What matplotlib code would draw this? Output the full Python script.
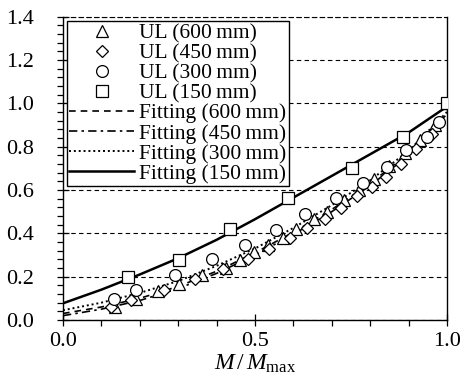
import matplotlib
matplotlib.use('Agg')
import matplotlib.pyplot as plt
from matplotlib.ticker import MultipleLocator

plt.rcParams['font.family'] = ['Liberation Serif', 'DejaVu Serif']
plt.rcParams['mathtext.fontset'] = 'custom'
plt.rcParams['mathtext.rm'] = 'Liberation Serif'
plt.rcParams['mathtext.it'] = 'Liberation Serif:italic'

# measured points (UL)
x600 = [0.136, 0.190, 0.247, 0.302, 0.362, 0.424, 0.460, 0.498, 0.535, 0.572, 0.607,
        0.653, 0.688, 0.731, 0.770, 0.810, 0.850, 0.890, 0.930, 0.970, 1.000]
y600 = [0.058, 0.095, 0.134, 0.166, 0.208, 0.241, 0.277, 0.312, 0.345, 0.377, 0.418,
        0.465, 0.500, 0.554, 0.600, 0.650, 0.710, 0.770, 0.830, 0.900, 1.000]

x450 = [0.124, 0.177, 0.264, 0.344, 0.418, 0.481, 0.537, 0.592, 0.635, 0.683, 0.725,
        0.766, 0.805, 0.840, 0.880, 0.920, 0.960, 1.000]
y450 = [0.062, 0.092, 0.138, 0.188, 0.234, 0.281, 0.326, 0.377, 0.423, 0.465, 0.515,
        0.572, 0.615, 0.660, 0.720, 0.790, 0.860, 1.000]

x300 = [0.134, 0.191, 0.292, 0.389, 0.473, 0.555, 0.631, 0.712, 0.781, 0.844, 0.894,
        0.947, 0.979, 1.000]
y300 = [0.096, 0.138, 0.208, 0.280, 0.346, 0.415, 0.490, 0.563, 0.631, 0.708, 0.784,
        0.846, 0.915, 1.000]

x150 = [0.170, 0.302, 0.436, 0.585, 0.753, 0.886, 1.000]
y150 = [0.197, 0.277, 0.419, 0.561, 0.703, 0.845, 1.000]

# fitting curves
xfit = [0.0, 0.1, 0.2, 0.3, 0.4, 0.5, 0.6, 0.7, 0.8, 0.9, 1.0]
fit600 = [0.030, 0.060, 0.100, 0.155, 0.225, 0.310, 0.405, 0.510, 0.630, 0.770, 0.950]
fit450 = [0.020, 0.050, 0.090, 0.145, 0.215, 0.300, 0.395, 0.500, 0.620, 0.760, 0.940]
fit300 = [0.045, 0.080, 0.125, 0.180, 0.250, 0.330, 0.425, 0.530, 0.645, 0.780, 0.960]
fit150 = [0.077, 0.140, 0.210, 0.285, 0.370, 0.465, 0.565, 0.665, 0.765, 0.865, 0.985]

fig = plt.figure(figsize=(4.7, 3.83), dpi=100)
ax = fig.add_axes([0.134, 0.1645, 0.817, 0.792])

mk = dict(mfc='white', mec='black', mew=0.9, ls='none', zorder=3)
ax.plot(x600, y600, marker='^', ms=8, label='UL (600\u2009mm)', **mk)
ax.plot(x450, y450, marker='D', ms=6.5, label='UL (450\u2009mm)', **mk)
ax.plot(x300, y300, marker='o', ms=8.5, label='UL (300\u2009mm)', **mk)
ax.plot(x150, y150, marker='s', ms=9, label='UL (150\u2009mm)', **mk)

ax.plot(xfit, fit600, color='black', lw=1.2, ls=(0, (4, 3)), label='Fitting (600\u2009mm)')
ax.plot(xfit, fit450, color='black', lw=1.2, ls=(0, (5, 2.5, 1.5, 2.5)), label='Fitting (450\u2009mm)')
ax.plot(xfit, fit300, color='black', lw=1.4, ls=(0, (1, 1.5)), label='Fitting (300\u2009mm)')
ax.plot(xfit, fit150, color='black', lw=1.8, ls='-', label='Fitting (150\u2009mm)')

ax.set_xlim(0, 1.0)
ax.set_ylim(0, 1.4)
ax.xaxis.set_major_locator(MultipleLocator(0.5))
ax.xaxis.set_minor_locator(MultipleLocator(0.1))
ax.yaxis.set_major_locator(MultipleLocator(0.2))
ax.yaxis.set_minor_locator(MultipleLocator(0.04))
ax.xaxis.set_major_formatter(plt.FuncFormatter(lambda v, p: f'{v:.1f}'))
ax.yaxis.set_major_formatter(plt.FuncFormatter(lambda v, p: f'{v:.1f}'))
ax.tick_params(which='major', direction='inout', length=8, width=0.9, labelsize=16)
ax.tick_params(which='minor', direction='out', length=4, width=0.9)
ax.tick_params(axis='y', which='major', pad=17)
ax.tick_params(axis='x', which='major', pad=5)
ax.tick_params(right=False, top=False, which='both')

ax.grid(axis='y', which='major', color='black', lw=0.8, ls=(0, (4, 3)))
ax.spines['top'].set_linestyle((0, (4, 3)))
ax.spines['top'].set_linewidth(0.8)
for s in ['left', 'bottom', 'right']:
    ax.spines[s].set_linewidth(1.0)

ax.set_xlabel(r'$M\,/\,M_{\mathrm{max}}$', fontsize=17, labelpad=1)

leg = ax.legend(loc='upper left', fontsize=15.5, numpoints=1, handlelength=3.0,
                handletextpad=0.25, labelspacing=0.0, borderpad=0.1,
                borderaxespad=0.2, fancybox=False, framealpha=1, edgecolor='black')
leg.get_frame().set_linewidth(1.0)

fig.savefig('out.png', dpi=100)
